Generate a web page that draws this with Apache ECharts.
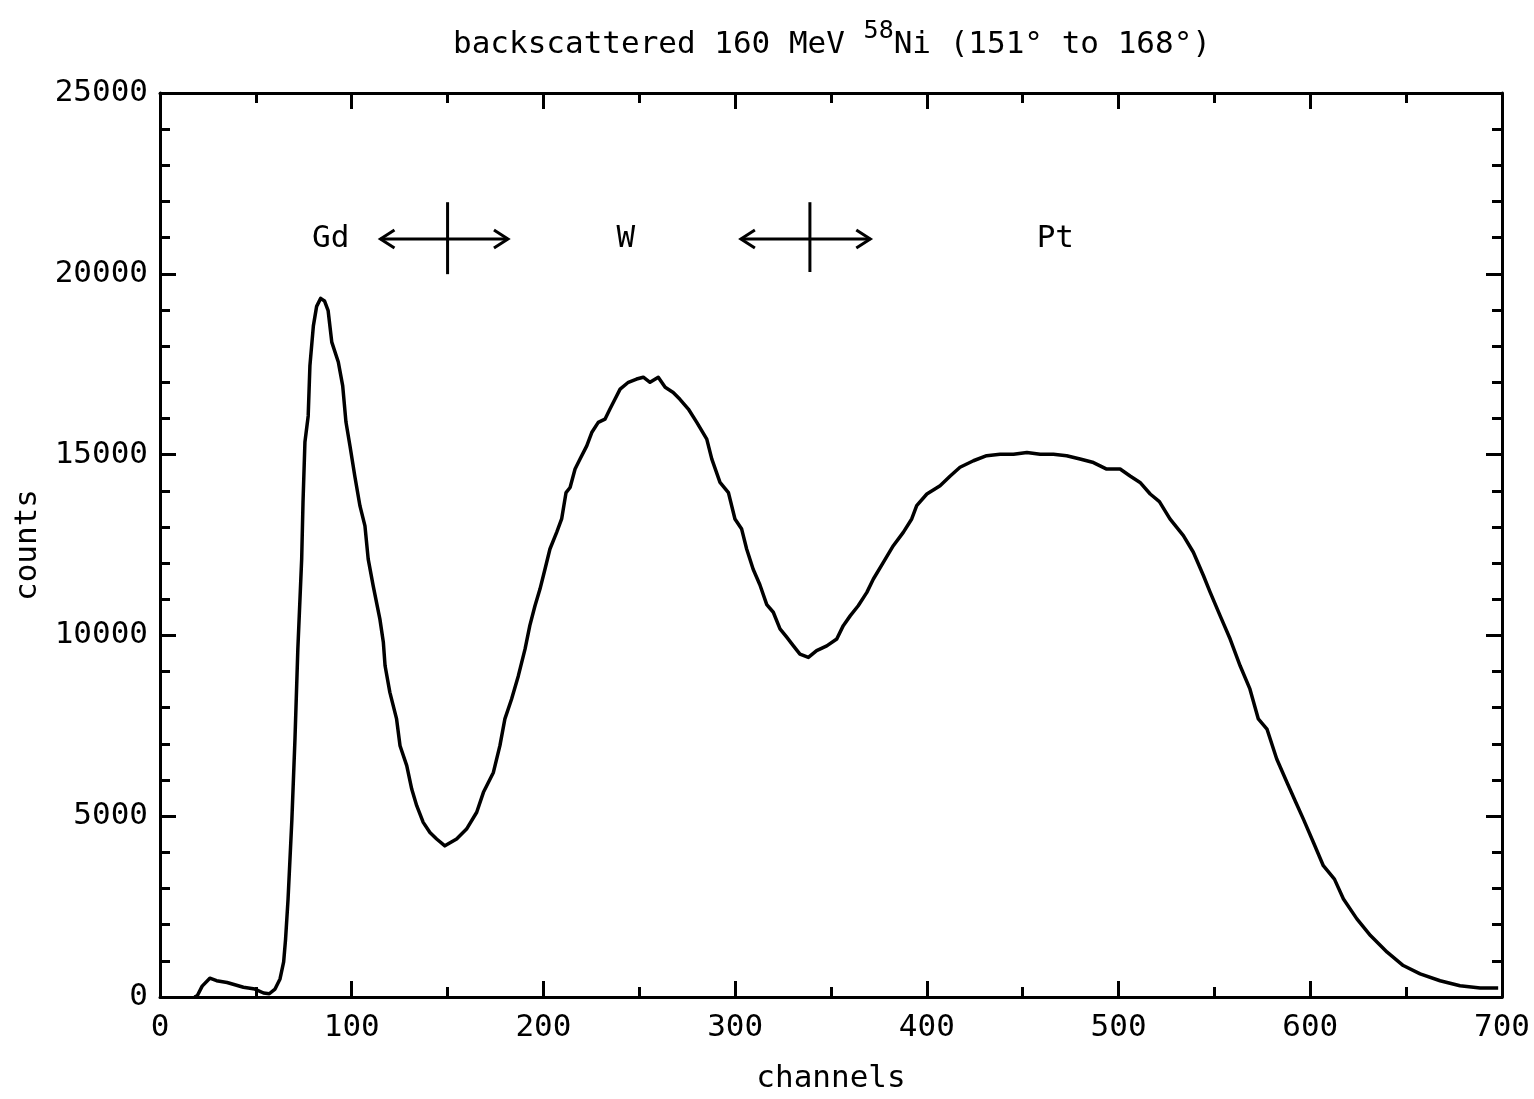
<!DOCTYPE html>
<html>
<head>
<meta charset="utf-8">
<script src="https://cdn.jsdelivr.net/npm/echarts@6/dist/echarts.min.js"></script>
<style>
html,body{margin:0;padding:0;background:#fff;}
#chart{width:1534px;height:1099px;}
</style>
</head>
<body>
<div id="chart"></div>
<script>
// ---- data ----
const channels = [18,19.5,22,26,29.5,35,43.5,49.5,54,57,60,62.6,64.5,65.5,66.8,68.8,70.4,71.9,73.9,74.6,75.6,77.3,78.2,80.0,81.7,83.8,85.8,87.7,89.6,93.0,95.3,97.0,99.1,101.6,104.3,106.9,108.6,111.2,114.7,116.5,117.4,119.9,123.4,125.2,128.7,131.3,133.9,137.3,140.8,144.3,148.6,154.7,159.9,165.2,168.7,173.9,177.3,179.9,183.4,186.9,190.4,192.9,195.6,198.2,200.8,203.4,206.9,209.5,211.8,213.9,216.5,219.1,222.6,225.2,228.6,232.1,234.7,237.3,240.0,244.3,248.6,252.1,255.6,259.9,263.5,267.7,271.2,275.6,280.0,285.2,287.8,292.1,296.5,299.9,303.4,306.0,309.4,312.9,316.5,319.9,323.4,326.9,330.4,333.8,338.2,342.5,347.8,353.0,356.4,360.0,364.2,368.7,372.1,377.3,382.5,387.7,392.1,394.7,400.0,406.9,412.2,417.3,424.3,431.2,438.2,445.2,452.2,459.1,466.0,472.9,479.9,486.9,493.8,500.8,506.0,511.2,516.5,521.3,526.8,533.8,539.0,544.3,547.8,553.0,558.2,563.4,568.5,572.9,577.4,582.5,587.8,592.5,596.4,601.6,606.8,612.6,617.3,624.3,631.4,640.1,648.5,657.3,667.7,678.1,688.6,698];
const counts = [0,40,300,520,450,400,270,220,110,90,220,500,970,1600,2710,4920,7130,9620,12110,13690,15350,16070,17460,18560,19100,19320,19250,18980,18110,17560,16900,15900,15240,14410,13580,13030,12110,11370,10450,9810,9160,8425,7690,6950,6400,5750,5290,4830,4550,4370,4180,4370,4645,5110,5660,6210,6950,7690,8240,8880,9620,10270,10820,11280,11830,12390,12850,13220,13950,14090,14600,14880,15240,15610,15890,15980,16260,16530,16810,17000,17090,17140,17000,17140,16860,16720,16530,16260,15890,15430,14880,14230,13950,13220,12940,12390,11830,11400,10850,10640,10180,9950,9710,9480,9390,9580,9710,9900,10270,10540,10820,11190,11560,12020,12480,12850,13220,13590,13910,14140,14410,14650,14830,14970,15010,15010,15060,15010,15010,14970,14880,14780,14600,14600,14410,14230,13910,13700,13220,12760,12300,11650,11190,10540,9900,9160,8520,7690,7410,6580,5940,5380,4920,4280,3630,3260,2710,2160,1700,1240,870,640,450,310,250,250];

// region boundary markers: channel, vertical extent (counts), arrow span, arrow level
const markerChannels = [150, 339];
const markerTop = [21980, 21980];
const markerBottom = [19990, 20050];
const arrowLeft = [115, 303];
const arrowRight = [181.5, 370.5];
const arrowLevel = [20960, 20960];

// element labels
const elementNames = ['Gd', 'W', 'Pt'];
const elementChannels = [89, 243, 467];
const elementLevel = [20960, 20960, 20960];

const xTicks = [0, 700, 100];      // min, max, labelled step
const yTicks = [0, 25000, 5000];

// ---- build ----
const FONT = "'DejaVu Sans Mono', 'Liberation Mono', monospace";
const curve = channels.map((c, i) => [c, counts[i]]);
const markers = markerChannels.map((c, i) => [c, markerTop[i], markerBottom[i], arrowLeft[i], arrowRight[i], arrowLevel[i]]);
const labels = elementNames.map((n, i) => ({ value: [elementChannels[i], elementLevel[i]], name: n }));

const black = '#000';
function xAxisDef(pos, showLabel) {
  return {
    type: 'value', position: pos, min: xTicks[0], max: xTicks[1], interval: xTicks[2],
    axisLine: { show: true, onZero: false, lineStyle: { color: black, width: 3 } },
    axisTick: { show: true, inside: true, length: 16, lineStyle: { color: black, width: 3 } },
    minorTick: { show: true, splitNumber: 2, length: 10, lineStyle: { color: black, width: 3 } },
    splitLine: { show: false }, minorSplitLine: { show: false },
    axisLabel: { show: showLabel, color: black, fontFamily: FONT, fontSize: 31, margin: 15,
      formatter: function (v) { return String(v); } },
    name: showLabel ? 'channels' : '', nameLocation: 'middle', nameGap: 66,
    nameTextStyle: { color: black, fontFamily: FONT, fontSize: 31 }
  };
}
function yAxisDef(pos, showLabel) {
  return {
    type: 'value', position: pos, min: yTicks[0], max: yTicks[1], interval: yTicks[2],
    axisLine: { show: true, onZero: false, lineStyle: { color: black, width: 3 } },
    axisTick: { show: true, inside: true, length: 16, lineStyle: { color: black, width: 3 } },
    minorTick: { show: true, splitNumber: 5, length: 10, lineStyle: { color: black, width: 3 } },
    splitLine: { show: false }, minorSplitLine: { show: false },
    axisLabel: { show: showLabel, color: black, fontFamily: FONT, fontSize: 31, margin: 12,
      formatter: function (v) { return String(v); } },
    name: showLabel ? 'counts' : '', nameLocation: 'middle', nameGap: 106, nameRotate: 90,
    nameTextStyle: { color: black, fontFamily: FONT, fontSize: 31 }
  };
}

const chart = echarts.init(document.getElementById('chart'), null, { renderer: 'canvas' });
chart.setOption({
  backgroundColor: '#fff',
  animation: false,
  title: {
    left: 448, top: 14,
    text: '{a|backscattered 160 MeV }{s|58}{a|Ni (151° to 168°)}',
    textStyle: {
      fontWeight: 'normal',
      rich: {
        a: { fontFamily: FONT, fontSize: 31, fontWeight: 'normal', color: black, verticalAlign: 'bottom' },
        s: { fontFamily: FONT, fontSize: 25, fontWeight: 'normal', color: black, verticalAlign: 'top', padding: [0, 0, 16, 0] }
      }
    }
  },
  grid: { left: 160, right: 32, top: 93, bottom: 102, containLabel: false, outerBoundsMode: 'none' },
  xAxis: [xAxisDef('bottom', true), xAxisDef('top', false)],
  yAxis: [yAxisDef('left', true), yAxisDef('right', false)],
  series: [
    {
      type: 'line', data: curve, xAxisIndex: 0, yAxisIndex: 0,
      showSymbol: false, symbol: 'none', smooth: false,
      lineStyle: { color: black, width: 3.5, join: 'round' }
    },
    {
      type: 'custom', xAxisIndex: 0, yAxisIndex: 0, data: markers,
      renderItem: function (params, api) {
        const top = api.coord([api.value(0), api.value(1)]);
        const bot = api.coord([api.value(0), api.value(2)]);
        const l = api.coord([api.value(3), api.value(5)]);
        const r = api.coord([api.value(4), api.value(5)]);
        const st = { stroke: black, lineWidth: 3, fill: null };
        const hw = 9, hl = 14;
        return {
          type: 'group',
          children: [
            { type: 'line', shape: { x1: top[0], y1: top[1], x2: bot[0], y2: bot[1] }, style: st },
            { type: 'line', shape: { x1: l[0], y1: l[1], x2: r[0], y2: r[1] }, style: st },
            { type: 'polyline', shape: { points: [[l[0] + hl, l[1] - hw], [l[0], l[1]], [l[0] + hl, l[1] + hw]] }, style: st },
            { type: 'polyline', shape: { points: [[r[0] - hl, r[1] - hw], [r[0], r[1]], [r[0] - hl, r[1] + hw]] }, style: st }
          ]
        };
      }
    },
    {
      type: 'custom', xAxisIndex: 0, yAxisIndex: 0, data: labels,
      renderItem: function (params, api) {
        const p = api.coord([api.value(0), api.value(1)]);
        return {
          type: 'text', x: p[0], y: p[1],
          style: { text: labels[params.dataIndex].name, fill: black, font: "31px " + FONT, align: 'center', verticalAlign: 'middle' }
        };
      }
    }
  ]
});
</script>
</body>
</html>
